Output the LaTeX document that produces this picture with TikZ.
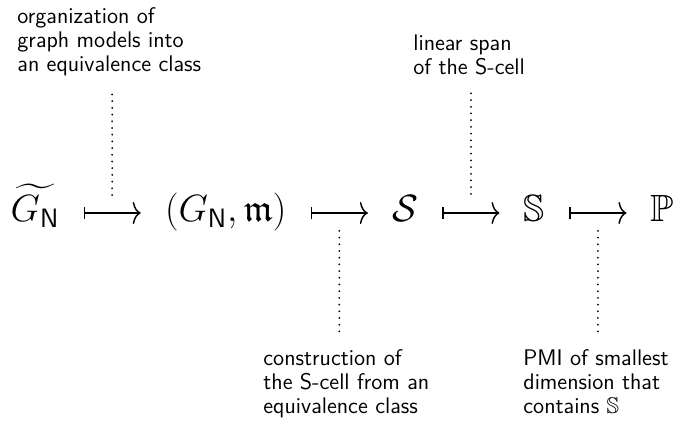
\RequirePackage{fix-cm}
\documentclass[tikz,border=0pt]{standalone}
\usepackage{amsmath,amssymb}
\usepackage{tikz}
\usetikzlibrary{positioning, arrows.meta}

\begin{document}
\begin{tikzpicture}[
  x=1pt, y=1pt,
  font=\sffamily\fontsize{11.3}{12}\selectfont,
  obj/.style={font=\fontsize{19}{22}\selectfont, inner xsep=12pt,
    inner ysep=0pt, text height=14pt, text depth=5pt},
  note/.style={align=left, inner sep=0pt, anchor=north west},
  mapsto/.style={{Bar[width=5.8pt]}-{To[length=4pt, width=11pt]},
    line width=0.72pt},
  link/.style={line width=1pt, line cap=round, dash pattern=on 0pt off 3.35pt,
    shorten <=9pt, shorten >=7pt},
]
  \useasboundingbox (0,0) rectangle (336.5,211);

  % Chain of constructions
  \node[obj] (gt) at (17.5,104.5) {$\widetilde{G_{\mathsf{N}}}$};
  \node[obj, right=28.5pt of gt] (gm) {$(G_{\mathsf{N}},\mathfrak{m})$};
  \node[obj, right=28.5pt of gm] (sc) {$\mathcal{S}$};
  \node[obj, right=28.5pt of sc] (ss) {$\mathbb{S}$};
  \node[obj, right=28.5pt of ss] (pp) {$\mathbb{P}$};

  \draw[mapsto] (gt) -- (gm) coordinate[midway] (m1);
  \draw[mapsto] (gm) -- (sc) coordinate[midway] (m2);
  \draw[mapsto] (sc) -- (ss) coordinate[midway] (m3);
  \draw[mapsto] (ss) -- (pp) coordinate[midway] (m4);

  % Explanations
  \node[note] (t1) at (8.5,207.3) {organization of\\graph models into\\an equivalence class};
  \node[note] (t3) at (206.5,193.8) {linear span\\of the S-cell};
  \node[note] (t2) at (131.5,36.3) {construction of\\the S-cell from an\\equivalence class};
  \node[note] (t4) at (261.5,36.3) {PMI of smallest\\dimension that\\contains $\mathbb{S}$};

  \draw[link] (m1 |- t1.south) -- (m1);
  \draw[link] (m3 |- t3.south) -- (m3);
  \draw[link] (m2 |- t2.north) -- (m2);
  \draw[link] (m4 |- t4.north) -- (m4);
\end{tikzpicture}
\end{document}
